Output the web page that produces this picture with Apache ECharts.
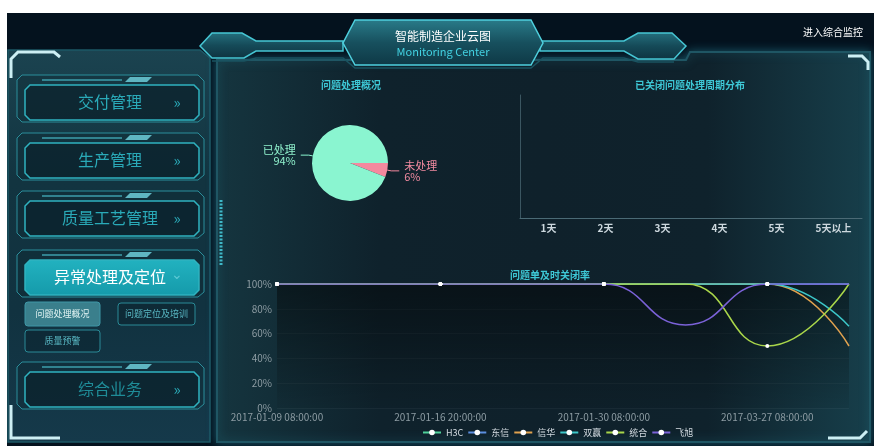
<!DOCTYPE html>
<html><head><meta charset="utf-8">
<script src="https://cdn.jsdelivr.net/npm/echarts@6/dist/echarts.min.js"></script>
<style>html,body{margin:0;padding:0;background:#fff}#c{width:874px;height:446px}</style>
</head><body><div id="c"></div>
<script>
// ---- data ----
const pieNames = ['未处理', '已处理'];
const pieValues = [6, 94];
const cycleCategories = ['1天', '2天', '3天', '4天', '5天', '5天以上'];
const cycleValues = [0, 0, 0, 0, 0, 0];
const rateDates = ['2017-01-09 08:00:00', '2017-01-12 20:00:00', '2017-01-16 20:00:00', '2017-01-23 08:00:00',
                   '2017-01-30 08:00:00', '2017-02-27 08:00:00', '2017-03-27 08:00:00', '2017-04-10 08:00:00'];
const rateH3C   = [100, 100, 100, 100, 100, 100, 100, 100];
const rateDX    = [100, 100, 100, 100, 100, 100, 100, 100];
const rateXH    = [100, 100, 100, 100, 100, 100, 100, 50];
const rateSY    = [100, 100, 100, 100, 100, 100, 100, 66];
const rateTH    = [100, 100, 100, 100, 100, 100, 50, 100];
const rateFX    = [100, 100, 100, 100, 100, 67, 100, 100];
const rateNames = ['H3C', '东信', '信华', '双赢', '统合', '飞旭'];
const yTicks = [0, 20, 40, 60, 80, 100];
const menuItems = ['交付管理', '生产管理', '质量工艺管理', '异常处理及定位', '综合业务'];
const subItems = ['问题处理概况', '问题定位及培训', '质量预警'];

const FONT = '"Noto Sans CJK SC","Noto Sans",sans-serif';
const chart = echarts.init(document.getElementById('c'));

function lin(x, y, x2, y2, stops) {
  return { type: 'linear', x: x, y: y, x2: x2, y2: y2, colorStops: stops.map((c, i) => ({ offset: i / (stops.length - 1), color: c })) };
}
const g = [];
// page background
g.push({ type: 'rect', z: -100, shape: { x: 0, y: 0, width: 874, height: 446 }, style: { fill: '#ffffff' } });
g.push({ type: 'rect', z: -99, shape: { x: 7, y: 13, width: 867, height: 433 }, style: { fill: '#04121e' } });
// left panel
g.push({ type: 'polygon', z: -90, shape: { points: [[8, 50], [200, 50], [210, 58], [210, 442], [8, 442]] },
  style: { fill: lin(0, 0, 0, 1, ['#1b4350', '#123440', '#113240', '#15394a']), stroke: '#1d5866', lineWidth: 1.5 } });
g.push({ type: 'polyline', z: -80, shape: { points: [[11, 78], [11, 59], [18, 52], [54, 52], [60, 57]] }, style: { stroke: '#cdeff4', lineWidth: 3, fill: null } });
g.push({ type: 'polyline', z: -80, shape: { points: [[11, 405], [11, 438], [60, 438]] }, style: { stroke: '#cdeff4', lineWidth: 3, fill: null } });
// main panel
g.push({ type: 'polygon', z: -90, shape: { points: [[217, 60], [686, 60], [690, 52], [870, 52], [870, 442], [217, 442]] },
  style: { fill: lin(0, 0, 1, 0, ['#15353f', '#0f222c', '#0f212b', '#0f222c', '#173f4b']), stroke: '#1f5664', lineWidth: 2, shadowBlur: 10, shadowColor: 'rgba(40,140,160,0.5)' } });
g.push({ type: 'polyline', z: -80, shape: { points: [[848, 56], [862, 56], [868, 62], [868, 70]] }, style: { stroke: '#cdeff4', lineWidth: 3, fill: null } });
g.push({ type: 'polyline', z: -80, shape: { points: [[828, 438], [860, 438], [867, 431]] }, style: { stroke: '#cdeff4', lineWidth: 3, fill: null } });
g.push({ type: 'line', z: -80, shape: { x1: 221, y1: 200, x2: 221, y2: 265 }, style: { stroke: '#3fb8c8', lineWidth: 3, lineDash: [2, 1.5] } });
// header
const hdrFill = lin(0, 0, 0, 1, ['#25707e', '#154a58', '#0e3340']);
g.push({ type: 'polygon', z: -70, shape: { points: [[200, 46], [212, 33], [242, 33], [256, 41], [343, 41], [343, 51], [256, 51], [244, 58], [212, 58]] },
  style: { fill: hdrFill, stroke: '#46c6d4', lineWidth: 1.5 } });
g.push({ type: 'polygon', z: -70, shape: { points: [[540, 41], [624, 41], [638, 33], [672, 33], [686, 46], [674, 59], [638, 59], [624, 51], [540, 51]] },
  style: { fill: hdrFill, stroke: '#46c6d4', lineWidth: 1.5 } });
g.push({ type: 'polygon', z: -69, shape: { points: [[355, 20], [531, 20], [543, 43], [531, 65], [355, 65], [343, 43]] },
  style: { fill: lin(0, 0, 0, 1, ['#2a7c8a', '#17505e', '#0e3845']), stroke: '#4fd0de', lineWidth: 1.5 } });
g.push({ type: 'polyline', z: -69, shape: { points: [[212, 61], [244, 61], [256, 58], [343, 58], [355, 68], [531, 68], [543, 58], [624, 58], [638, 62], [674, 62]] },
  style: { stroke: '#1a5360', lineWidth: 1.5, fill: null } });
g.push({ type: 'text', z: 10, style: { text: '智能制造企业云图', x: 443, y: 36, fill: '#ffffff', font: '12px ' + FONT, textAlign: 'center', textVerticalAlign: 'middle' } });
g.push({ type: 'text', z: 10, style: { text: 'Monitoring Center', x: 443, y: 52, fill: '#43d2e2', font: '11px ' + FONT, textAlign: 'center', textVerticalAlign: 'middle' } });
g.push({ type: 'text', z: 10, style: { text: '进入综合监控', x: 833, y: 32, fill: '#ffffff', font: '10px ' + FONT, textAlign: 'center', textVerticalAlign: 'middle' } });
// menu
const menuTops = [75, 133, 191, 250, 362];
menuItems.forEach((name, i) => {
  const y0 = menuTops[i];
  const active = i === 3;
  g.push({ type: 'polygon', z: -60, shape: { points: [[17, y0 + 5], [22, y0], [198, y0], [204, y0 + 6], [204, y0 + 42], [198, y0 + 47], [22, y0 + 47], [17, y0 + 42]] },
    style: { fill: 'rgba(14,40,50,0.35)', stroke: '#2b8e9b', lineWidth: 1 } });
  g.push({ type: 'line', z: -59, shape: { x1: 42, y1: y0 + 5, x2: 122, y2: y0 + 5 }, style: { stroke: '#3d9fac', lineWidth: 1.5 } });
  g.push({ type: 'polygon', z: -59, shape: { points: [[125, y0 + 7], [130, y0 + 2], [152, y0 + 2], [147, y0 + 7]] }, style: { fill: '#5fb6c2' } });
  g.push({ type: 'polygon', z: -58, shape: { points: [[30, y0 + 10], [194, y0 + 10], [199, y0 + 15], [199, y0 + 40], [194, y0 + 45], [30, y0 + 45], [25, y0 + 40], [25, y0 + 15]] },
    style: { fill: active ? lin(0, 0, 0, 1, ['#22b2c0', '#159aaa']) : 'rgba(10,32,42,0.6)', stroke: '#2fb3c0', lineWidth: 1.5 } });
  g.push({ type: 'text', z: 10, style: { text: name, x: 110, y: y0 + 27, fill: active ? '#ffffff' : (i === 4 ? '#1f8c98' : '#2aaab8'), font: '16px ' + FONT, textAlign: 'center', textVerticalAlign: 'middle' } });
  g.push({ type: 'text', z: 10, style: { text: active ? '⌄' : '»', x: 177, y: y0 + (active ? 24 : 27), fill: active ? '#5cc8d4' : '#2aaab8', font: (active ? '14px ' : '15px ') + FONT, textAlign: 'center', textVerticalAlign: 'middle' } });
});
const subBoxes = [[25, 302, 75, 24], [118, 303, 77, 22], [25, 330, 75, 22]];
subItems.forEach((name, i) => {
  const b = subBoxes[i];
  g.push({ type: 'rect', z: -55, shape: { x: b[0], y: b[1], width: b[2], height: b[3], r: 3 },
    style: { fill: i === 0 ? '#3a7f8c' : 'rgba(10,30,40,0.4)', stroke: i === 0 ? '#3f97a6' : '#2a8a97', lineWidth: 1 } });
  g.push({ type: 'text', z: 10, style: { text: name, x: b[0] + b[2] / 2, y: b[1] + b[3] / 2, fill: i === 0 ? '#dff2f2' : '#58b6c2', font: '9px ' + FONT, textAlign: 'center', textVerticalAlign: 'middle' } });
});

const lineColors = ['#4fd19a', '#5b8fe0', '#e0a24f', '#3cc6c8', '#a9d64a', '#7b62d8'];
const rateSeries = [rateH3C, rateDX, rateXH, rateSY, rateTH, rateFX];

const option = {
  animation: false,
  textStyle: { fontFamily: FONT },
  graphic: g,
  title: [
    { text: '问题处理概况', left: 351, top: 80, textAlign: 'center', padding: 0, textStyle: { color: '#3ec8d6', fontSize: 10, fontWeight: 'bold', fontFamily: FONT } },
    { text: '已关闭问题处理周期分布', left: 690, top: 80, textAlign: 'center', padding: 0, textStyle: { color: '#3ec8d6', fontSize: 10, fontWeight: 'bold', fontFamily: FONT } },
    { text: '问题单及时关闭率', left: 550, top: 270, textAlign: 'center', padding: 0, textStyle: { color: '#3ec8d6', fontSize: 10, fontWeight: 'bold', fontFamily: FONT } }
  ],
  legend: {
    data: rateNames, left: 422, top: 428, itemWidth: 18, itemHeight: 7, itemGap: 4, padding: 0,
    textStyle: { color: '#d4dce2', fontSize: 9, fontFamily: FONT }
  },
  grid: [
    { left: 520, right: 12, top: 95, bottom: 228 },
    { left: 277, right: 25, top: 284, bottom: 38 }
  ],
  xAxis: [
    { type: 'category', gridIndex: 0, data: cycleCategories,
      axisLine: { lineStyle: { color: '#4b6a75' } }, axisTick: { show: false },
      axisLabel: { color: '#cdd8de', fontSize: 10, fontWeight: 'bold', margin: 5 } },
    { type: 'category', gridIndex: 1, data: rateDates, boundaryGap: false,
      axisLine: { show: false }, axisTick: { show: false },
      axisLabel: { color: '#8d9ca3', fontSize: 10, interval: 1, margin: 4 } }
  ],
  yAxis: [
    { type: 'value', gridIndex: 0, axisLine: { show: true, lineStyle: { color: '#3b5661' } }, axisLabel: { show: false },
      axisTick: { show: false }, splitLine: { show: false } },
    { type: 'value', gridIndex: 1, min: yTicks[0], max: yTicks[yTicks.length - 1], interval: yTicks[1] - yTicks[0],
      axisLine: { show: false }, axisTick: { show: false },
      axisLabel: { color: '#8d9ca3', fontSize: 10, formatter: '{value}%', margin: 5 },
      splitLine: { lineStyle: { color: 'rgba(255,255,255,0.04)' } } }
  ],
  series: [
    { type: 'pie', center: [350, 163], radius: 38, startAngle: 0, clockwise: true,
      data: pieNames.map((n, i) => ({ name: n, value: pieValues[i],
        itemStyle: { color: i === 0 ? '#f4899e' : '#8af5d0' },
        label: { color: i === 0 ? '#f08aa0' : '#8ff0cc' } })),
      label: { formatter: '{b}\n{d}%', fontSize: 11, lineHeight: 11, fontFamily: FONT },
      labelLine: { length: 4, length2: 8, lineStyle: { width: 1 } } },
    { type: 'bar', xAxisIndex: 0, yAxisIndex: 0, data: cycleValues, itemStyle: { color: '#3ec8d6' } }
  ].concat(rateNames.map((n, i) => ({
    type: 'line', name: n, xAxisIndex: 1, yAxisIndex: 1, data: rateSeries[i], smooth: true,
    showAllSymbol: false, symbol: 'circle', symbolSize: 4,
    itemStyle: { color: '#ffffff' }, lineStyle: { color: lineColors[i], width: 1.5 },
    areaStyle: i === 0 ? { color: lin(0, 0, 0, 1, ['rgba(0,0,0,0.45)', 'rgba(0,0,0,0.05)']), opacity: 1 } : undefined
  })))
};
chart.setOption(option);
</script></body></html>
